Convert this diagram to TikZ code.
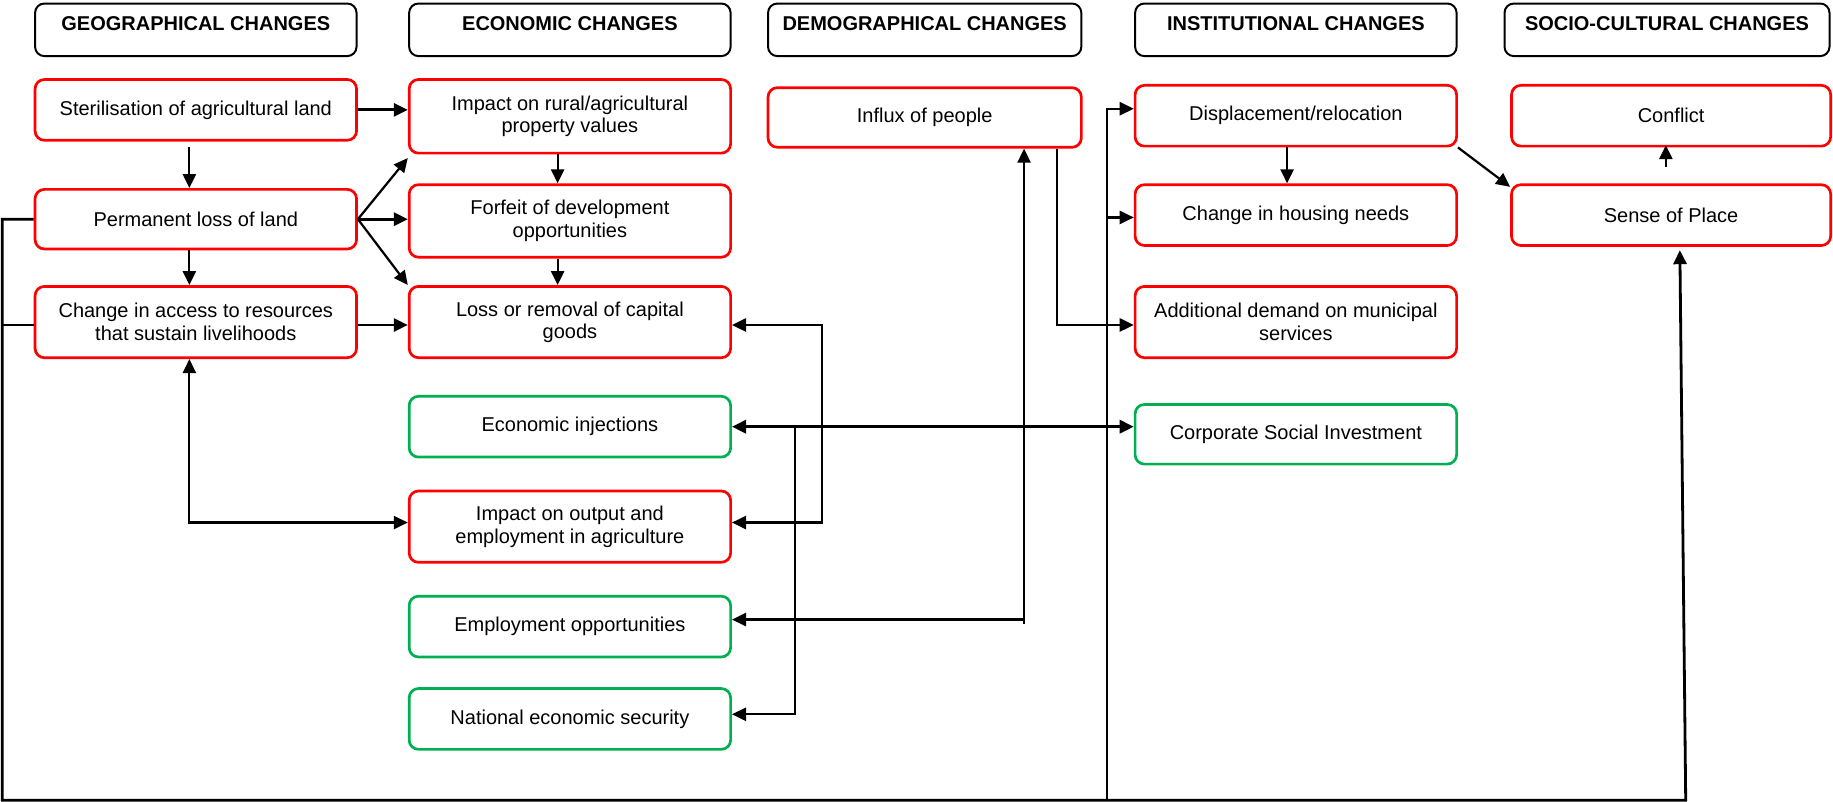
\documentclass[tikz,border=0pt]{standalone}
\usepackage{fontspec}
\setmainfont{Liberation Sans}
\usetikzlibrary{arrows.meta,calc}
\definecolor{boxred}{RGB}{255,0,0}
\definecolor{boxgreen}{RGB}{0,176,80}
\begin{document}
\begin{tikzpicture}[x=0.5pt,y=-0.5pt,
  >={Triangle[length=6pt,width=5.6pt]},
  font=\fontsize{8.55}{9.6}\selectfont,
  hdr/.style={draw=black, line width=0.85pt, rounded corners=4pt, inner sep=0pt,
    minimum height=22.5pt, text height=6.5pt, text depth=5.9pt,
    font=\fontsize{8.55}{9.6}\selectfont\bfseries},
  redbox/.style={draw=boxred, line width=1.15pt, rounded corners=4pt, align=center,
    inner sep=0pt, minimum width=137.5pt},
  greenbox/.style={draw=boxgreen, line width=1.15pt, rounded corners=4pt, align=center,
    inner sep=0pt, minimum width=137.5pt},
  conn/.style={line width=0.95pt},
  thickconn/.style={line width=1.2pt}]
\useasboundingbox (0,0) rectangle (1568,686);

% headers
\node[hdr, minimum width=137.5pt] (hgeo) at (167.5,25.5) {GEOGRAPHICAL CHANGES};
\node[hdr, minimum width=137.5pt] (hecon) at (487.5,25.5) {ECONOMIC CHANGES};
\node[hdr, minimum width=134pt] (hdemo) at (791,25.5) {DEMOGRAPHICAL CHANGES};
\node[hdr, minimum width=137.5pt] (hinst) at (1108.5,25.5) {INSTITUTIONAL CHANGES};
\node[hdr, minimum width=139pt] (hsoc) at (1426,25.5) {SOCIO-CULTURAL CHANGES};

% geographical
\node[redbox, minimum height=26pt] (ster) at (167.5,94) {Sterilisation of agricultural land};
\node[redbox, minimum height=25.5pt] (perm) at (167.5,187.5) {Permanent loss of land};
\node[redbox, minimum height=30.5pt] (access) at (167.5,275.5) {Change in access to resources\\that sustain livelihoods};

% economic
\node[redbox, minimum height=31.5pt] (rural) at (487.5,99.5) {Impact on rural/agricultural\\property values};
\node[redbox, minimum height=31pt] (forfeit) at (487.5,189) {Forfeit of development\\opportunities};
\node[redbox, minimum height=30.5pt] (capital) at (487.5,275.5) {Loss or removal of capital\\goods};
\node[greenbox, minimum height=26pt] (inject) at (487.5,365) {Economic injections};
\node[redbox, minimum height=30.5pt] (output) at (487.5,450.5) {Impact on output and\\employment in agriculture};
\node[greenbox, minimum height=26pt] (employ) at (487.5,536) {Employment opportunities};
\node[greenbox, minimum height=26pt] (natsec) at (487.5,615) {National economic security};

% demographical
\node[redbox, minimum width=134pt, minimum height=25.5pt] (influx) at (791,100.5) {Influx of people};

% institutional
\node[redbox, minimum height=26pt] (displ) at (1108.5,99) {Displacement/relocation};
\node[redbox, minimum height=26pt] (housing) at (1108.5,184) {Change in housing needs};
\node[redbox, minimum height=30.5pt] (demand) at (1108.5,275.5) {Additional demand on municipal\\services};
\node[greenbox, minimum height=25.5pt] (csi) at (1108.5,371.5) {Corporate Social Investment};

% socio-cultural
\node[redbox, minimum width=136.5pt, minimum height=26pt] (conflict) at (1429.5,99) {Conflict};
\node[redbox, minimum width=136.5pt, minimum height=26pt] (sense) at (1429.5,184) {Sense of Place};

% helper coordinates
\coordinate (b1) at (703,278);
\coordinate (b2) at (703,447);
\coordinate (c1) at (680,365);
\coordinate (c2) at (680,611);
\coordinate (d1) at (876,530);
\coordinate (e1) at (904,278);
\coordinate (L1) at (2,187.5);
\coordinate (L2) at (2,278);
\coordinate (S1) at (1442,684.5);
\coordinate (S2) at (1437,214);
\coordinate (R1) at (947,684.5);
\coordinate (R0) at (947,93);
\coordinate (R2) at (947,186);

% geographical / economic links
\draw[thickconn,->] (ster.east) -- (ster.east -| rural.west);
\draw[conn,->] ($(ster.south)+(-5.5,5)$) -- ($(perm.north)+(-5.5,0)$);
\draw[conn,->] (perm.east) -- ($(rural.south west)+(0,3)$);
\draw[thickconn,->] (perm.east) -- (perm.east -| forfeit.west);
\draw[conn,->] (perm.east) -- (capital.north west);
\draw[conn,->] ($(perm.south)+(-5.5,0)$) -- ($(access.north)+(-5.5,0)$);
\draw[conn,->] ($(rural.south)+(-10.5,0)$) -- ($(forfeit.north)+(-10.5,0)$);
\draw[conn,->] ($(forfeit.south)+(-10.5,0)$) -- ($(capital.north)+(-10.5,0)$);
\draw[thickconn,->] ($(access.east)+(0,2.5)$) -- ($(capital.west)+(0,2.5)$);
\draw[conn,<->] ($(access.south)+(-5.5,0)$) |- ($(output.west)+(0,-3.5)$);
\draw[conn,<->] (capital.east |- b1) -- (b1) -- (b2) -- (output.east |- b2);

% economic injections / CSI
\draw[thickconn,<->] (inject.east) -- (inject.east -| csi.west);
\draw[conn,->] (c1) -- (c2) -- (c2 -| natsec.east);

% employment / influx
\draw[conn,<->] (employ.east |- d1) -- (d1) -- (d1 |- influx.south);
\draw[conn] (d1) -- ++(0,4);
\draw[conn,->] (e1 |- influx.south) -- (e1) -- (e1 -| demand.west);

% big loop
\draw[thickconn,->] (perm.west) -- (L1) |- (S1) -- (S2);
\draw[thickconn] (access.west |- L2) -- (L2);
\draw[conn,->] (R1) -- (R0) -- (R0 -| displ.west);
\draw[conn,->] (R2) -- (R2 -| housing.west);

% institutional / socio-cultural
\draw[conn,->] ($(displ.south)+(-7.5,0)$) -- ($(housing.north)+(-7.5,0)$);
\draw[conn,->] (displ.south east) -- ($(sense.north west)+(0,3)$);
\draw[conn,->] ($(sense.north)+(-4.5,-14)$) -- ($(conflict.south)+(-4.5,-2)$);
\end{tikzpicture}
\end{document}
